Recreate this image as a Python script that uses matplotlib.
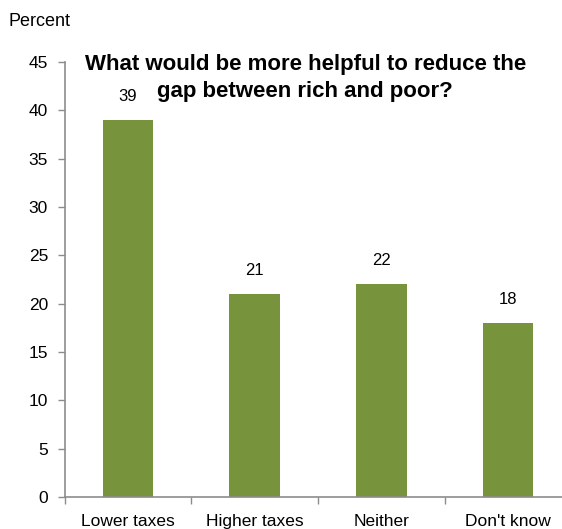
import matplotlib
matplotlib.use("Agg")
import matplotlib.pyplot as plt
import numpy as np

plt.rcParams["font.family"] = ["Liberation Sans", "DejaVu Sans"]

categories = ["Lower taxes", "Higher taxes", "Neither", "Don't know"]
values = [39, 21, 22, 18]
yticks = [0, 5, 10, 15, 20, 25, 30, 35, 40, 45]
title_lines = ["What would be more helpful to reduce the", "gap between rich and poor?"]

BAR_COLOR = "#77933C"
AXIS_COLOR = "#8C8C8C"

W, H = 562, 529
fig = plt.figure(figsize=(W / 100, H / 100), dpi=100)
# axes runs slightly past the right edge, as in the reference
ax = fig.add_axes([64.7 / W, 32 / H, 506.7 / W, 435 / H])

x = np.arange(len(categories))
ax.bar(x, values, width=0.4, color=BAR_COLOR, zorder=2)
for xi, v in zip(x, values):
    ax.annotate(f"{v}", (xi, v), xytext=(0, 11.5), textcoords="offset points",
                ha="center", va="bottom", fontsize=12)

ax.set_xlim(-0.5, len(categories) - 0.5)
ax.set_ylim(0, 45)
ax.set_yticks(yticks)
ax.set_xticks(x)
ax.set_xticklabels(categories, fontsize=12.5)
ax.set_xticks(np.arange(len(categories)) - 0.5, minor=True)
ax.tick_params(axis="x", which="major", length=0, pad=12)
ax.tick_params(axis="x", which="minor", length=5, color=AXIS_COLOR, width=1)
ax.tick_params(axis="y", length=5, color=AXIS_COLOR, width=1, labelsize=12.5, pad=7)

for s in ("top", "right"):
    ax.spines[s].set_visible(False)
for s in ("left", "bottom"):
    ax.spines[s].set_color(AXIS_COLOR)
    ax.spines[s].set_linewidth(1.2)

# title drawn as two lines, each centred on its own, like the reference
for line, (cx, by) in zip(title_lines, [(306, 70), (305, 97)]):
    fig.text(cx / W, 1 - by / H, line, ha="center", va="baseline", fontsize=16,
             fontweight="bold")
fig.text(9 / W, 1 - 21 / H, "Percent", ha="left", va="center", fontsize=13)

fig.savefig("out.png", dpi=100)
